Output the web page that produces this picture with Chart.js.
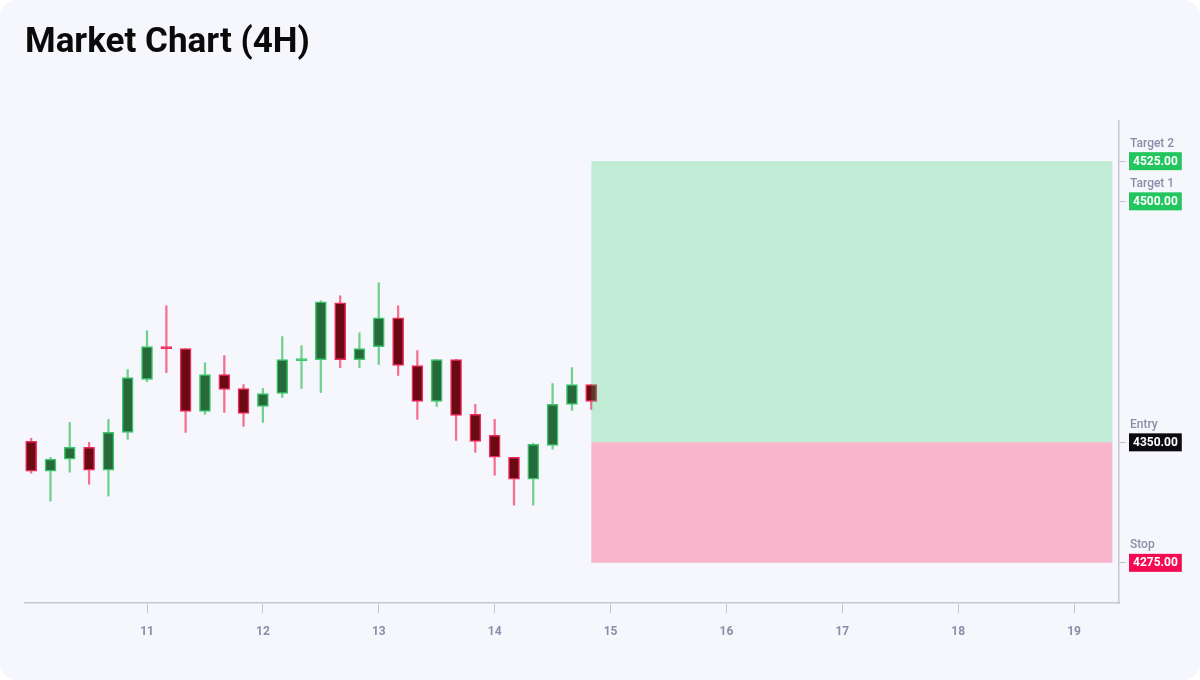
<!DOCTYPE html>
<html>
<head>
<meta charset="utf-8">
<title>Market Chart (4H)</title>
<script src="https://cdn.jsdelivr.net/npm/chart.js@4.4.1/dist/chart.umd.min.js"></script>
<style>
    html, body { margin: 0; padding: 0; background: #ffffff; }
    #card { width: 1200px; height: 680px; background: #f6f7fc; border-radius: 16px; overflow: hidden; }
</style>
</head>
<body>
<div id="card"><canvas id="marketChart" width="1200" height="680"></canvas></div>
<script>
// 4H candles, x = day of month
const times = [10.000, 10.167, 10.333, 10.500, 10.667, 10.833,
               11.000, 11.167, 11.333, 11.500, 11.667, 11.833,
               12.000, 12.167, 12.333, 12.500, 12.667, 12.833,
               13.000, 13.167, 13.333, 13.500, 13.667, 13.833,
               14.000, 14.167, 14.333, 14.500, 14.667, 14.833];
const opens  = [4350.6, 4332.0, 4339.5, 4346.9, 4332.6, 4356.2, 4389.1, 4409.6, 4408.3, 4369.2,
                4392.2, 4383.5, 4372.3, 4380.4, 4400.9, 4401.5, 4436.8, 4401.5, 4409.6, 4427.5,
                4397.8, 4375.4, 4401.5, 4367.4, 4354.3, 4340.7, 4327.0, 4348.1, 4373.6, 4386.0];
const highs  = [4352.5, 4340.7, 4362.4, 4350.0, 4364.3, 4395.3, 4419.5, 4435.0, 4408.3, 4399.6,
                4404.0, 4386.0, 4383.5, 4415.8, 4410.2, 4438.1, 4441.2, 4418.2, 4449.3, 4435.0,
                4407.1, 4401.5, 4401.5, 4373.6, 4364.3, 4340.7, 4349.4, 4386.6, 4396.5, 4386.0];
const lows   = [4330.8, 4313.4, 4331.4, 4323.9, 4316.5, 4351.9, 4387.8, 4393.4, 4356.2, 4367.4,
                4368.6, 4359.9, 4362.4, 4377.9, 4383.5, 4381.0, 4396.5, 4396.5, 4398.4, 4391.6,
                4364.3, 4372.3, 4351.2, 4343.8, 4329.5, 4310.9, 4310.9, 4345.7, 4369.9, 4370.5];
const closes = [4332.0, 4339.5, 4346.9, 4332.6, 4356.2, 4390.3, 4409.6, 4408.3, 4369.2, 4392.2,
                4382.9, 4368.0, 4380.4, 4401.5, 4402.1, 4437.5, 4401.5, 4408.3, 4427.5, 4397.8,
                4375.4, 4401.5, 4366.7, 4350.6, 4340.7, 4327.0, 4348.8, 4373.6, 4386.0, 4375.4];

// trade plan levels
const levelNames  = ["Target 2", "Target 1", "Entry", "Stop"];
const levelValues = [4525, 4500, 4350, 4275];
const levelColors = ["#22c55e", "#22c55e", "#0b0b10", "#f30a52"];
const planStart = 14.833;
const planEnd = 19.333;

const xTicks = [11, 12, 13, 14, 15, 16, 17, 18, 19];

const isUp = times.map((t, i) => closes[i] >= opens[i]);
const isDoji = times.map((t, i) => Math.abs(closes[i] - opens[i]) < 2);

const upFill = "#26693a", downFill = "#6c0a14";
const upEdge = "#3cc76c", downEdge = "#ef2a5d";

// badges + captions on the right axis
const levelBadges = {
    id: "levelBadges",
    afterDraw(chart) {
        const ctx = chart.ctx;
        const yScale = chart.scales.y;
        const left = yScale.left + 10;
        ctx.save();
        levelValues.forEach((v, i) => {
            const y = yScale.getPixelForValue(v);
            ctx.font = "bold 12px Roboto";
            const label = v.toFixed(2);
            const w = ctx.measureText(label).width + 8;
            ctx.fillStyle = levelColors[i];
            ctx.fillRect(left, y - 9, w, 18);
            ctx.fillStyle = "#ffffff";
            ctx.textBaseline = "middle";
            ctx.textAlign = "left";
            ctx.fillText(label, left + 4, y + 0.5);
            ctx.font = "500 12px Roboto";
            ctx.fillStyle = "#8a8ea8";
            ctx.fillText(levelNames[i], left + 1, y - 17.5);
        });
        ctx.restore();
    }
};

const ctx = document.getElementById("marketChart").getContext("2d");
new Chart(ctx, {
    type: "bar",
    data: {
        datasets: [
            {
                type: "line",
                label: "Reward",
                data: [{ x: planStart, y: levelValues[0] }, { x: planEnd, y: levelValues[0] }],
                fill: { target: { value: levelValues[2] } },
                backgroundColor: "rgba(40, 206, 100, 0.26)",
                borderWidth: 0,
                pointRadius: 0,
                order: 0
            },
            {
                type: "line",
                label: "Risk",
                data: [{ x: planStart, y: levelValues[3] }, { x: planEnd, y: levelValues[3] }],
                fill: { target: { value: levelValues[2] } },
                backgroundColor: "rgba(255, 30, 90, 0.3)",
                borderWidth: 0,
                pointRadius: 0,
                order: 0
            },
            {
                label: "Body",
                data: times.map((t, i) => ({ x: t, y: [opens[i], closes[i]] })),
                backgroundColor: isUp.map((u, i) => isDoji[i] ? (u ? upEdge : downEdge) : (u ? upFill : downFill)),
                borderColor: isUp.map(u => u ? upEdge : downEdge),
                borderWidth: 1.5,
                borderSkipped: false,
                barThickness: 11,
                grouped: false,
                order: 1
            },
            {
                label: "Wick",
                data: times.map((t, i) => ({ x: t, y: [lows[i], highs[i]] })),
                backgroundColor: isUp.map(u => u ? "#6fd08f" : "#f3708f"),
                borderWidth: 0,
                barThickness: 1.6,
                grouped: false,
                order: 2
            }
        ]
    },
    options: {
        responsive: false,
        animation: false,
        layout: { padding: { left: 25, right: 0, top: 0, bottom: 0 } },
        plugins: {
            legend: { display: false },
            tooltip: { enabled: false },
            title: {
                display: true,
                text: "Market Chart (4H)",
                align: "start",
                color: "#0a0a0a",
                font: { family: "Roboto", size: 35, weight: "bold", lineHeight: 1.2 },
                padding: { top: 22, bottom: 57 }
            }
        },
        scales: {
            x: {
                type: "linear",
                min: 9.947,
                max: 19.388,
                offset: false,
                afterBuildTicks: scale => { scale.ticks = xTicks.map(v => ({ value: v })); },
                afterFit: scale => { scale.height = 77; },
                grid: { display: true, drawOnChartArea: false, drawTicks: true, tickLength: 10, offset: false, color: "#c5c7d0" },
                border: { display: true, color: "#c5c7d0", width: 1.5 },
                ticks: {
                    color: "#8a8ea8",
                    padding: 12,
                    maxRotation: 0,
                    font: { family: "Roboto", size: 12, weight: "bold" },
                    callback: v => String(v)
                }
            },
            y: {
                type: "linear",
                position: "right",
                min: 4250,
                max: 4550,
                afterBuildTicks: scale => { scale.ticks = levelValues.map(v => ({ value: v })); },
                afterFit: scale => { scale.width = 81; },
                grid: { display: true, drawOnChartArea: false, drawTicks: true, tickLength: 7, color: "#c5c7d0" },
                border: { display: true, color: "#c5c7d0", width: 1.5 },
                ticks: { display: false }
            }
        }
    },
    plugins: [levelBadges]
});
</script>
</body>
</html>
